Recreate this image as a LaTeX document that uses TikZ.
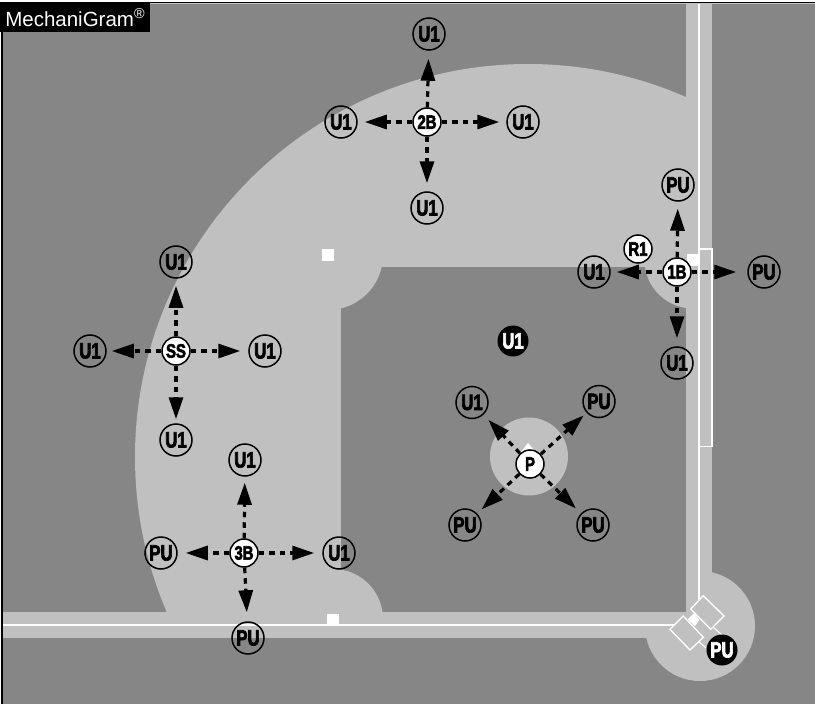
\documentclass[tikz,border=0pt]{standalone}
\usepackage{fontspec}
\setmainfont{Liberation Sans}
\newfontfamily\markfont[UprightFont={* Bold},FakeStretch=0.76,FakeBold=3]{Liberation Sans}
\usetikzlibrary{arrows.meta}
\definecolor{grasscol}{HTML}{868686}
\definecolor{dirtcol}{HTML}{C0C0C0}
\tikzset{
  ring/.style={circle,draw=black,line width=1.5pt,minimum size=32pt,inner sep=0pt,
    font=\markfont\fontsize{22}{22}\selectfont},
  fielder/.style={circle,draw=black,fill=white,line width=1.5pt,minimum size=28pt,inner sep=0pt,
    font=\markfont\fontsize{19.5}{19.5}\selectfont},
  startpos/.style={circle,fill=black,text=white,minimum size=31pt,inner sep=0pt,
    font=\markfont\fontsize{22}{22}\selectfont},
  basebag/.style={fill=white},
  runline/.style={line width=3.2pt,dash pattern=on 5.5pt off 5pt,
    -{Triangle[length=22pt,width=14pt]}},
  chalk/.style={draw=white,line width=2pt},
}
\begin{document}
\begin{tikzpicture}[x=1pt,y=-1pt]
\useasboundingbox (0,0) rectangle (815,704);
\fill[grasscol] (2,3) rectangle (815,704);
\draw[line width=2pt] (2,704) -- (2,2.5);
\draw[line width=1pt] (0,2.5) -- (815,2.5);
\draw[dirtcol,line width=1pt] (3,3.5) -- (815,3.5);

% dirt
\begin{scope}
\clip (3,4) rectangle (686,612);
\fill[dirtcol] (528,457) circle (393);
\end{scope}
\fill[dirtcol] (686,4) rectangle (712,630);
\fill[dirtcol] (3,612) rectangle (700,638);
\fill[dirtcol] (700,626) circle (55);

% infield grass
\fill[grasscol] (341,267) rectangle (686,612);
\begin{scope}
\clip (341,267) rectangle (686,612);
\fill[dirtcol] (328,255) circle (55);
\fill[dirtcol] (693,260) circle (48.5);
\fill[dirtcol] (333,619) circle (50);
\end{scope}
\fill[dirtcol] (529,456.5) circle (39);

% lines
\draw[chalk] (699,4) -- (699,600);
\draw[chalk] (3,625) -- (675,625);
\draw[chalk,line width=1.3pt] (699,249) rectangle (712,446.5);
\draw[chalk,line width=1pt] (713,627) -- (722,635);
\draw[chalk,line width=1pt] (697,640) -- (706,648);
\draw[chalk,fill=dirtcol,line width=1.3pt] (703.3,595.7) -- (724,616) -- (710.7,629.3) -- (690.7,609) -- cycle;
\draw[chalk,fill=dirtcol,line width=1.3pt] (683.3,616) -- (703.3,637.3) -- (690,650) -- (670,629.3) -- cycle;

% bases
\fill[basebag] (322,249) rectangle (334,261);
\fill[basebag] (327,614) rectangle (339,625);
\fill[basebag] (687,254) rectangle (699,266);
\fill[basebag] (687.7,619.3) -- (694,613.3) -- (699.3,620) -- (695,626) -- cycle;
\fill[basebag] (517,457) -- (528,443) -- (540,457) -- cycle;

\node[anchor=north west,fill=black,text=white,inner sep=0pt,minimum height=29pt,minimum width=150pt,
  font=\fontsize{20.5}{20.5}\selectfont] (logo) at (0,3)
  {MechaniGram\textsuperscript{\textregistered}};

% second base
\node[fielder] (2B) at (427,122) {2B};
\node[ring] (2Bu) at (429,34) {U1};
\node[ring] (2Bl) at (341,122) {U1};
\node[ring] (2Br) at (523,122) {U1};
\node[ring] (2Bd) at (427,208) {U1};
% shortstop
\node[fielder] (SS) at (176,351) {SS};
\node[ring] (SSu) at (176,262) {U1};
\node[ring] (SSl) at (90,351) {U1};
\node[ring] (SSr) at (265,351) {U1};
\node[ring] (SSd) at (176,440) {U1};
% first base
\node[fielder] (1B) at (677,272) {1B};
\node[ring] (1Bu) at (678,185) {PU};
\node[ring] (1Bl) at (594,272) {U1};
\node[ring] (1Br) at (764,272) {PU};
\node[ring] (1Bd) at (677,363) {U1};
\node[fielder] (R1) at (638,249) {R1};
% third base
\node[fielder] (3B) at (244,553) {3B};
\node[ring] (3Bu) at (245,460) {U1};
\node[ring] (3Bl) at (161,553) {PU};
\node[ring] (3Br) at (339,553) {U1};
\node[ring] (3Bd) at (248,638) {PU};
% pitcher
\node[fielder] (P) at (530,464) {P};
\node[ring] (Pa) at (472,402.5) {U1};
\node[ring] (Pb) at (599,401.5) {PU};
\node[ring] (Pc) at (465,525) {PU};
\node[ring] (Pd) at (593,525) {PU};
% start positions
\node[startpos] (U1) at (513,341) {U1};
\node[startpos] (PU) at (722,650) {PU};

\foreach \from/\to/\gap in {2B/2Bu/8,2B/2Bl/7,2B/2Br/7,2B/2Bd/8,
  SS/SSu/7,SS/SSl/5,SS/SSr/8,SS/SSd/4,
  1B/1Bu/7,1B/1Bl/6,1B/1Br/11,1B/1Bd/8,
  3B/3Bu/6,3B/3Bl/8,3B/3Br/8,3B/3Bd/9,
  P/Pa/7,P/Pb/4,P/Pc/6,P/Pd/7}
  \draw[runline,shorten >=\gap pt] (\from) -- (\to);
\end{tikzpicture}
\end{document}
